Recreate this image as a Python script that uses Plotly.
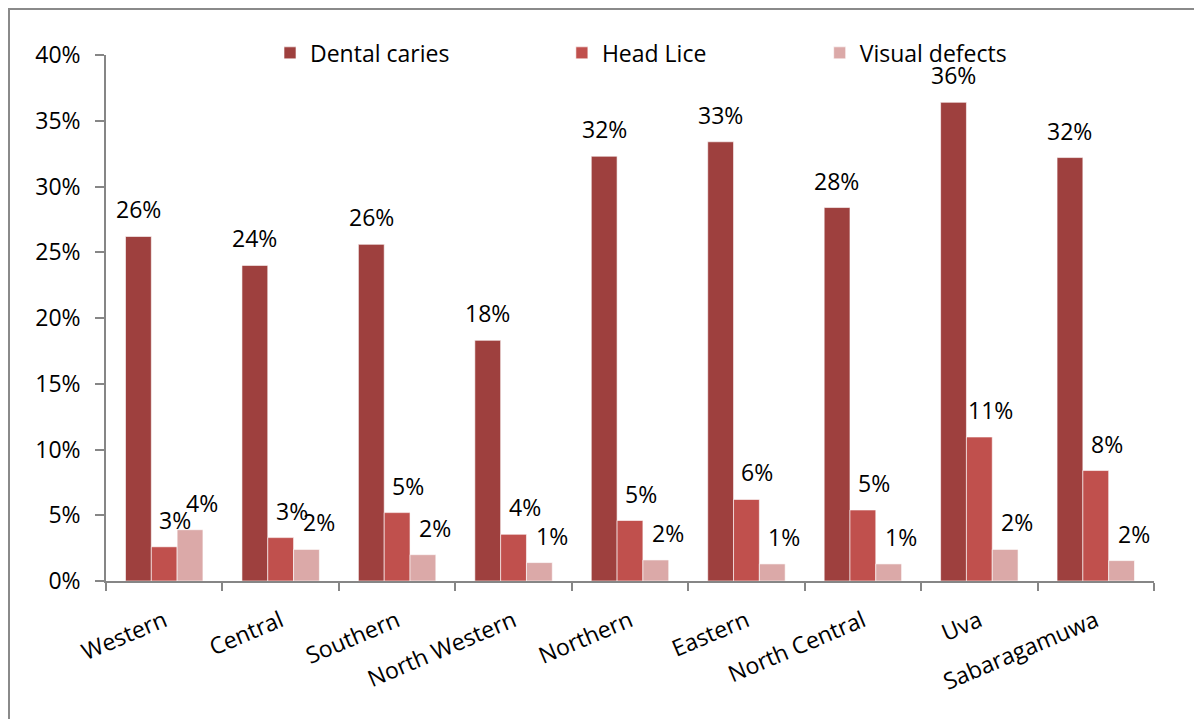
import plotly.graph_objects as go

regions = ["Western", "Central", "Southern", "North Western", "Northern",
           "Eastern", "North Central", "Uva", "Sabaragamuwa"]
dental_caries = [26.2, 24.0, 25.6, 18.3, 32.3, 33.4, 28.4, 36.4, 32.2]
head_lice = [2.6, 3.3, 5.2, 3.55, 4.6, 6.2, 5.4, 10.95, 8.4]
visual_defects = [3.9, 2.4, 2.0, 1.4, 1.6, 1.3, 1.3, 2.4, 1.55]
y_tick_values = [0, 5, 10, 15, 20, 25, 30, 35, 40]
y_tick_labels = ["0%", "5%", "10%", "15%", "20%", "25%", "30%", "35%", "40%"]

series = [
    ("Dental caries", dental_caries, "#9E403E", "legend", 0.1565),
    ("Head Lice", head_lice, "#C0504D", "legend2", 0.435),
    ("Visual defects", visual_defects, "#DBA9A8", "legend3", 0.681),
]
FONT = "Open Sans"
FS = 23

W, H = 1194, 711
ML, MT, PW, PH = 98, 47, 1048, 526

fig = go.Figure()
for name, vals, color, lg, _ in series:
    fig.add_trace(go.Bar(
        x=regions, y=vals, name=name, legend=lg,
        marker=dict(color=color, line=dict(color="white", width=0.6)),
    ))

# data labels
label_xshift = [-26, 11, 38]
for (name, vals, _, _, _), xs in zip(series, label_xshift):
    for r, v in zip(regions, vals):
        fig.add_annotation(
            x=r, y=v, xref="x", yref="y", text=f"{round(v)}%",
            showarrow=False, xshift=xs, yshift=27, yanchor="middle",
            font=dict(family=FONT, size=FS, color="black"),
        )

legend_common = dict(orientation="h", yanchor="middle", y=1.004, xanchor="left",
                     font=dict(family=FONT, size=FS, color="black"),
                     bgcolor="rgba(0,0,0,0)", borderwidth=0)
layout_legends = {}
for (_, _, _, lg, lx) in series:
    layout_legends[lg] = dict(legend_common, x=lx)

axis_color = "#868686"
fig.update_layout(
    width=W, height=H,
    margin=dict(l=ML, r=W - ML - PW, t=MT, b=H - MT - PH, autoexpand=False),
    paper_bgcolor="white", plot_bgcolor="white",
    barmode="group", bargap=0.335, bargroupgap=0,
    font=dict(family=FONT, size=FS, color="black"),
    showlegend=True,
    **layout_legends,
    xaxis=dict(
        showline=True, linecolor=axis_color, linewidth=1.5,
        ticks="outside", ticklen=8, tickcolor=axis_color, tickwidth=1.5,
        tickson="boundaries", tickangle=-23,
        tickfont=dict(family=FONT, size=FS, color="black"),
        showgrid=False, ticklabelstandoff=16, automargin=False,
    ),
    yaxis=dict(
        range=[0, 40], tickmode="array", tickvals=y_tick_values, ticktext=y_tick_labels,
        showline=True, linecolor=axis_color, linewidth=1.5,
        ticks="outside", ticklen=9, tickcolor=axis_color, tickwidth=1.5,
        showgrid=False, zeroline=False,
        tickfont=dict(family=FONT, size=FS, color="black"),
        ticklabelstandoff=10, automargin=False,
    ),
    shapes=[dict(type="rect", xref="paper", yref="paper",
                 x0=(1 - ML) / PW, x1=(W + 20 - ML) / PW,
                 y0=-0.5, y1=(PH + MT - 1) / PH,
                 line=dict(color="#8a8a8a", width=2), layer="below")],
)

fig.write_html("out.html")
